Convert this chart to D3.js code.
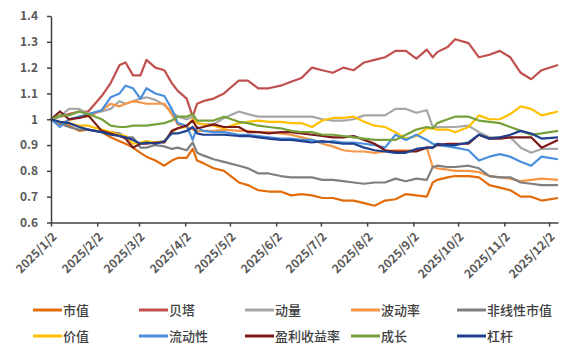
<!DOCTYPE html>
<html>
<head>
<meta charset="utf-8">
<script src="https://cdnjs.cloudflare.com/ajax/libs/d3/7.8.5/d3.min.js"></script>
<style>
  body { margin: 0; background: #fff; }
  .axis text { font-family: "Noto Sans CJK SC", "Noto Sans", sans-serif; font-weight: 700; fill: #595959; }
  .legend text { font-family: "Noto Sans CJK SC", sans-serif; font-size: 13px; font-weight: 500; fill: #404040; }
</style>
</head>
<body>
<div class="chart"></div>
<script>
var WIDTH = 567;
var HEIGHT = 351;

var dates = ['2025-01-02','2025-01-08','2025-01-14','2025-01-21','2025-01-27','2025-02-05','2025-02-11','2025-02-17','2025-02-21','2025-02-26',
  '2025-03-03','2025-03-07','2025-03-13','2025-03-19','2025-03-24','2025-03-28','2025-04-03','2025-04-07','2025-04-10','2025-04-14',
  '2025-04-21','2025-04-28','2025-05-08','2025-05-14','2025-05-21','2025-05-28','2025-06-05','2025-06-12','2025-06-19','2025-06-26',
  '2025-07-03','2025-07-10','2025-07-17','2025-07-24','2025-07-31','2025-08-07','2025-08-14','2025-08-21','2025-08-28','2025-09-04',
  '2025-09-11','2025-09-15','2025-09-18','2025-09-25','2025-09-30','2025-10-09','2025-10-16','2025-10-23','2025-10-30','2025-11-06',
  '2025-11-13','2025-11-20','2025-11-27','2025-12-08'];

var tickDates = ['2025-01-02','2025-02-02','2025-03-02','2025-04-02','2025-05-02','2025-06-02',
  '2025-07-02','2025-08-02','2025-09-02','2025-10-02','2025-11-02','2025-12-02'];
var yTicks = [0.6, 0.7, 0.8, 0.9, 1, 1.1, 1.2, 1.3, 1.4];

var size = [1.00,0.98,0.975,0.955,0.96,0.95,0.93,0.915,0.905,0.89,0.87,0.855,0.84,0.82,0.84,0.85,0.85,0.885,0.84,0.83,
  0.81,0.80,0.755,0.745,0.725,0.72,0.72,0.705,0.71,0.705,0.695,0.695,0.685,0.685,0.675,0.665,0.685,0.69,0.71,0.705,
  0.70,0.755,0.765,0.775,0.78,0.78,0.775,0.745,0.735,0.725,0.70,0.70,0.685,0.695];
var beta = [1.00,1.01,1.02,1.03,1.03,1.09,1.14,1.21,1.22,1.17,1.17,1.23,1.20,1.19,1.14,1.11,1.08,1.01,1.06,1.07,
  1.08,1.10,1.15,1.15,1.12,1.12,1.13,1.145,1.16,1.20,1.19,1.18,1.20,1.19,1.22,1.23,1.24,1.265,1.265,1.235,
  1.27,1.24,1.26,1.28,1.31,1.295,1.24,1.25,1.265,1.24,1.18,1.155,1.19,1.21];
var momentum = [1.00,1.01,1.04,1.04,1.02,1.03,1.04,1.07,1.06,1.07,1.08,1.085,1.075,1.055,1.03,1.01,1.00,1.01,0.985,0.98,
  0.98,1.005,1.03,1.02,1.01,1.01,1.01,1.01,1.01,1.01,1.00,0.995,0.995,1.00,1.015,1.015,1.015,1.04,1.04,1.025,
  1.035,0.97,0.97,0.97,0.97,0.975,0.95,0.93,0.93,0.93,0.89,0.87,0.885,0.885];
var volatility = [1.00,0.985,0.995,1.01,1.01,1.035,1.06,1.05,1.06,1.07,1.065,1.06,1.06,1.06,1.02,0.98,0.97,0.96,0.955,0.955,
  0.955,0.96,0.955,0.955,0.95,0.95,0.945,0.94,0.93,0.92,0.905,0.895,0.88,0.875,0.875,0.87,0.875,0.88,0.88,0.88,
  0.89,0.815,0.81,0.805,0.80,0.80,0.795,0.78,0.775,0.77,0.76,0.765,0.77,0.765];
var nlSize = [1.00,0.985,0.97,0.96,0.96,0.95,0.95,0.945,0.93,0.93,0.89,0.89,0.90,0.895,0.885,0.89,0.88,0.91,0.87,0.86,
  0.845,0.835,0.82,0.81,0.79,0.79,0.78,0.775,0.775,0.775,0.765,0.765,0.76,0.755,0.75,0.755,0.755,0.77,0.76,0.77,
  0.765,0.815,0.82,0.815,0.815,0.82,0.81,0.78,0.775,0.775,0.755,0.75,0.745,0.745];
var value = [1.00,0.99,0.985,0.975,0.975,0.96,0.95,0.94,0.935,0.905,0.91,0.915,0.91,0.915,0.95,0.965,0.97,1.00,0.985,0.98,
  0.975,0.965,0.985,0.99,0.995,0.99,0.99,0.985,0.985,0.97,0.995,1.005,1.005,1.01,0.99,0.975,0.97,0.95,0.925,0.935,
  0.965,0.965,0.96,0.96,0.95,0.97,1.015,1.00,1.00,1.02,1.05,1.04,1.015,1.03];
var liquidity = [1.00,0.97,1.00,1.01,1.02,1.035,1.085,1.10,1.13,1.12,1.08,1.12,1.10,1.09,1.04,0.985,0.975,0.92,0.97,0.955,
  0.95,0.95,0.94,0.94,0.935,0.93,0.925,0.925,0.92,0.92,0.91,0.915,0.91,0.91,0.905,0.90,0.89,0.94,0.92,0.94,
  0.92,0.905,0.90,0.895,0.89,0.88,0.84,0.855,0.865,0.855,0.835,0.82,0.855,0.845];
var earnings = [1.00,1.03,1.00,1.005,1.015,0.955,0.945,0.935,0.925,0.89,0.905,0.905,0.91,0.91,0.955,0.965,0.975,0.995,0.965,0.97,
  0.98,0.97,0.97,0.95,0.95,0.945,0.95,0.95,0.945,0.94,0.935,0.93,0.93,0.935,0.92,0.905,0.88,0.875,0.875,0.875,
  0.89,0.89,0.90,0.905,0.905,0.905,0.94,0.925,0.925,0.93,0.93,0.93,0.89,0.92];
var growth = [1.00,1.015,1.015,1.03,1.02,1.00,0.975,0.97,0.97,0.975,0.975,0.975,0.98,0.985,0.995,1.01,1.01,1.02,0.995,0.995,
  0.995,1.01,0.99,0.985,0.975,0.97,0.965,0.955,0.95,0.95,0.94,0.94,0.935,0.93,0.925,0.92,0.92,0.92,0.94,0.96,
  0.97,0.965,0.985,1.00,1.01,1.01,0.995,0.99,0.985,0.97,0.955,0.94,0.945,0.955];
var leverage = [1.00,0.99,0.985,0.97,0.96,0.95,0.94,0.935,0.93,0.92,0.905,0.91,0.905,0.915,0.945,0.945,0.955,0.97,0.945,0.94,
  0.94,0.94,0.935,0.935,0.93,0.925,0.92,0.92,0.915,0.91,0.915,0.91,0.905,0.905,0.89,0.88,0.875,0.87,0.87,0.885,
  0.89,0.89,0.905,0.90,0.90,0.91,0.94,0.925,0.93,0.94,0.955,0.945,0.925,0.93];

var seriesNames = ['市值','贝塔','动量','波动率','非线性市值','价值','流动性','盈利收益率','成长','杠杆'];
var seriesValues = [size, beta, momentum, volatility, nlSize, value, liquidity, earnings, growth, leverage];
var seriesColors = ['#E36C0A','#C0504D','#A6A6A6','#F79646','#7F7F7F','#FFC000','#4A8FDC','#7A1A1A','#76A13A','#1F3F8F'];

var translate = function (x, y) {
  return 'translate(' + x + ',' + y + ')';
};

var loadChart = function() {
  var parse = d3.timeParse('%Y-%m-%d');
  var fmt = d3.timeFormat('%Y/%-m/%-d');

  var xScale = d3.scaleTime()
      .domain([parse('2025-01-02'), parse('2025-12-08')])
      .range([51, 558]);

  var yScale = d3.scaleLinear()
      .domain([0.6, 1.4])
      .range([222.5, 16]);

  var svg = d3.select('.chart').append('svg')
      .attr('width', WIDTH)
      .attr('height', HEIGHT);

  // lines
  var line = d3.line()
      .x(function(d, i) { return xScale(parse(dates[i])); })
      .y(function(d) { return yScale(d); });

  var lineGroup = svg.append('g');
  seriesValues.forEach(function(vals, k) {
    lineGroup.append('path')
        .datum(vals)
        .attr('d', line)
        .attr('fill', 'none')
        .attr('stroke', seriesColors[k])
        .attr('stroke-width', 2.2)
        .attr('stroke-linejoin', 'round');
  });

  // axes
  var yAxis = d3.axisLeft(yScale)
      .tickValues(yTicks)
      .tickSize(4)
      .tickSizeOuter(0)
      .tickPadding(9)
      .tickFormat(d3.format('~g'));

  var gy = svg.append('g')
      .attr('class', 'axis')
      .attr('transform', translate(51, 0))
      .call(yAxis);
  gy.selectAll('text').style('font-size', '12px');

  var xAxis = d3.axisBottom(xScale)
      .tickValues(tickDates.map(parse))
      .tickSize(4)
      .tickSizeOuter(0)
      .tickFormat(fmt);

  var gx = svg.append('g')
      .attr('class', 'axis')
      .attr('transform', translate(0, 222.5))
      .call(xAxis);
  gx.selectAll('text')
      .style('font-size', '12px')
      .style('text-anchor', 'end')
      .attr('dy', null)
      .attr('y', 0)
      .attr('transform', 'translate(6,15) rotate(-45)');

  svg.selectAll('.axis path, .axis line')
      .attr('stroke', '#404040')
      .attr('stroke-width', 1.5);

  // legend
  var legend = svg.append('g').attr('class', 'legend');
  seriesNames.forEach(function(name, k) {
    var col = k % 5, row = Math.floor(k / 5);
    var g = legend.append('g').attr('transform', translate(33 + col * 106, 310 + row * 26));
    g.append('line')
        .attr('x1', 0).attr('x2', 29)
        .attr('y1', 0).attr('y2', 0)
        .attr('stroke', seriesColors[k])
        .attr('stroke-width', 3);
    g.append('text')
        .attr('x', 30)
        .attr('y', 0)
        .attr('dy', '0.35em')
        .text(name);
  });
};

window.onload = loadChart;
</script>
</body>
</html>
